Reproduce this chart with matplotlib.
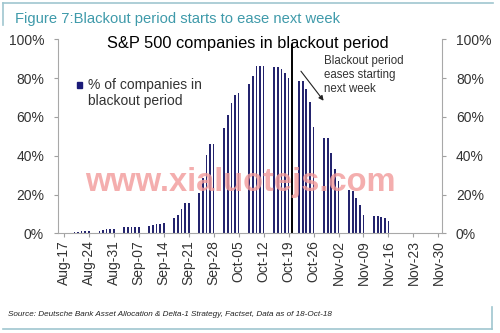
import matplotlib
matplotlib.use("Agg")
import matplotlib.pyplot as plt
import matplotlib.dates as mdates
import pandas as pd
from matplotlib.lines import Line2D
from matplotlib.patches import Rectangle

plt.rcParams['font.family'] = ['Liberation Sans', 'DejaVu Sans']

# ---- data ----
dates = pd.bdate_range('2018-08-20', '2018-11-16')
pct_blackout = [
    0.8, 0.8, 1.0, 1.0, 1.0,
    1.3, 1.6, 2.0, 2.0, 2.0,
    3.0, 3.2, 3.4, 3.5, 3.5,
    3.8, 4.2, 4.6, 5.0, 5.5,
    7.7, 9.4, 12.4, 15.5, 15.8,
    20.6, 28.3, 40.4, 46.0, 46.0,
    54.1, 61.0, 67.3, 71.3, 72.3,
    76.8, 81.2, 86.3, 86.3, 86.3,
    85.8, 85.8, 84.6, 82.5, 79.9,
    78.3, 78.3, 74.5, 67.8, 54.9,
    48.9, 48.9, 41.4, 33.3, 27.0,
    22.3, 22.0, 18.3, 14.6, 9.4,
    8.9, 8.9, 8.6, 7.7, 6.5,
]
tick_dates = pd.date_range('2018-08-17', '2018-11-30', freq='7D')
tick_labels = [d.strftime('%b-%d') for d in tick_dates]
yticks = [0, 20, 40, 60, 80, 100]
ytick_labels = ['0%', '20%', '40%', '60%', '80%', '100%']
data_date = pd.Timestamp('2018-10-20')

title = 'S&P 500 companies in blackout period'
header = 'Figure 7:Blackout period starts to ease next week'
legend_label = '% of companies in\nblackout period'
note = 'Blackout period\neases starting\nnext week'
source = 'Source: Deutsche Bank Asset Allocation & Delta-1 Strategy, Factset, Data as of 18-Oct-18'
watermark = 'www.xialuotejs.com'

# ---- figure ----
W, H = 500, 333
fig = plt.figure(figsize=(5, 3.33), dpi=100)
ax = fig.add_axes([58 / W, 1 - 233.3 / H, 384 / W, 194 / H])

bar_color = '#24246e'
x = mdates.date2num(dates)
ax.bar(x, pct_blackout, width=0.5, color=bar_color, align='center')

t0 = mdates.date2num(tick_dates[0])
t1 = mdates.date2num(tick_dates[-1])
ax.set_xlim(t0 - 1.6, t1 + 1.0)
ax.set_ylim(0, 100)
ax.set_xticks(mdates.date2num(tick_dates))
ax.set_xticklabels(tick_labels, rotation=90, fontsize=10, color='#333333')
ax.set_yticks(yticks)
ax.set_yticklabels(ytick_labels, fontsize=10, color='#333333')
ax.tick_params(axis='y', which='both', left=True, right=True, labelleft=True,
               labelright=True, length=3, color='#a0a0a0', pad=7)
ax.tick_params(axis='x', length=3, color='#a0a0a0', pad=2)
for s in ['left', 'right', 'bottom']:
    ax.spines[s].set_color('#a8a8a8')
    ax.spines[s].set_linewidth(0.8)
ax.spines['top'].set_visible(False)

# data-as-of line
ax.axvline(mdates.date2num(data_date), ymin=0, ymax=0.97, color='black', lw=1.4)

# arrow + annotation
ax.annotate('', xy=(mdates.date2num(pd.Timestamp('2018-10-29')) + 0.3, 67.2),
            xytext=(mdates.date2num(pd.Timestamp('2018-10-22')) + 0.0, 84.7),
            arrowprops=dict(arrowstyle='-|>', color='#222222', lw=0.8,
                            mutation_scale=7))
fig.text(324 / W, 1 - 55 / H, note, fontsize=8.3, color='#333333',
         va='top', ha='left', linespacing=1.2)

# title
fig.text(248 / W, 1 - 48 / H, title, fontsize=11.8, ha='center', va='baseline',
         color='black')

# legend
fig.patches.append(Rectangle((76.5 / W, 1 - 88.5 / H), 5.5 / W, 6.5 / H,
                             transform=fig.transFigure, color='#1a1a78'))
fig.text(88 / W, 1 - 105 / H, legend_label, fontsize=10, color='#333333',
         va='baseline', ha='left', linespacing=1.15)

# header + frame
fig.text(15 / W, 1 - 22.7 / H, header, fontsize=10.6, color='#3f9aaa',
         va='baseline', ha='left')
frame_c = '#9fc6cf'
fig.add_artist(Line2D([3 / W, 493 / W], [1 - 3 / H, 1 - 3 / H],
                      transform=fig.transFigure, color=frame_c, lw=1.2))
fig.add_artist(Line2D([3 / W, 3 / W], [1 - 3 / H, 1 - 25 / H],
                      transform=fig.transFigure, color=frame_c, lw=1.2))
fig.add_artist(Line2D([3 / W, 492 / W], [1 - 329 / H, 1 - 329 / H],
                      transform=fig.transFigure, color=frame_c, lw=1.2))
fig.add_artist(Line2D([492 / W, 492 / W], [1 - 307 / H, 1 - 329 / H],
                      transform=fig.transFigure, color=frame_c, lw=1.2))

# source
fig.text(8 / W, 1 - 316.5 / H, source, fontsize=5.85, style='italic',
         color='#222222', va='baseline', ha='left')

# watermark
fig.text(240 / W, 1 - 182 / H, watermark, fontsize=23.5, fontweight='bold',
         color='#f29a9a', alpha=0.8, ha='center', va='center', zorder=10)

fig.savefig('out.png', dpi=100)
